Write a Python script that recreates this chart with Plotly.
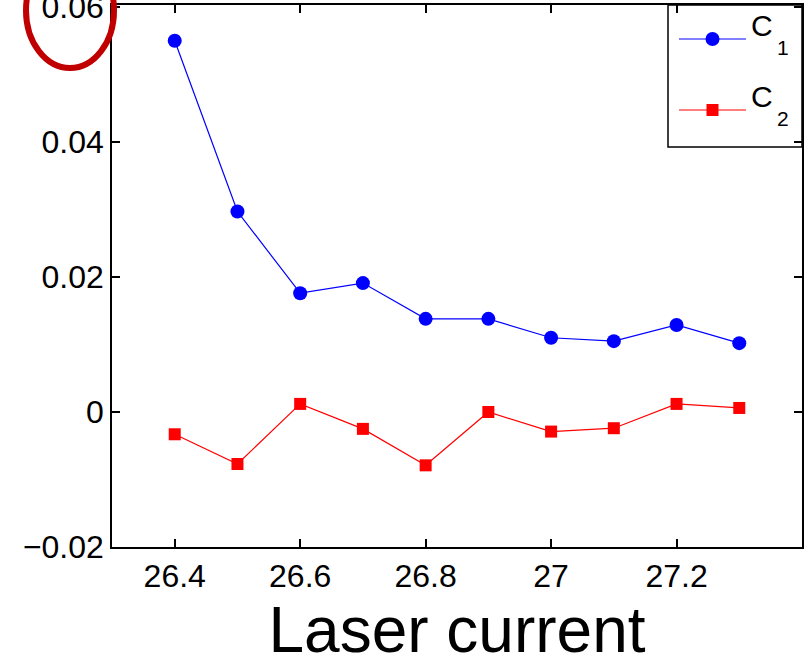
import plotly.graph_objects as go

laser_current = [26.4, 26.5, 26.6, 26.7, 26.8, 26.9, 27.0, 27.1, 27.2, 27.3]
c1_values = [0.0550, 0.0297, 0.0176, 0.0191, 0.0138, 0.0138, 0.0110, 0.0105, 0.0129, 0.0102]
c2_values = [-0.0033, -0.0077, 0.0012, -0.0025, -0.0079, 0.0000, -0.0029, -0.0024, 0.0012, 0.0006]
series_names = ["<span style=\"baseline-shift:15px\">C</span>"
                "<span style=\"baseline-shift:-4px;font-size:21px\">\u20091</span>",
                "<span style=\"baseline-shift:15px\">C</span>"
                "<span style=\"baseline-shift:-4px;font-size:21px\">\u20092</span>"]
x_title = "Laser current"

W, H = 806, 668
ml, mr, mt, mb = 112, 4, 5, 121
pw, ph = W - ml - mr, H - mt - mb

fig = go.Figure()
fig.add_trace(go.Scatter(x=laser_current, y=c1_values, mode="lines+markers", name=series_names[0],
                         legendgroup="g1",
                         line=dict(color="#0000FF", width=1.2),
                         marker=dict(symbol="circle", size=14, color="#0000FF")))
fig.add_trace(go.Scatter(x=laser_current, y=c2_values, mode="lines+markers", name=series_names[1],
                         legendgroup="g2",
                         line=dict(color="#FF0000", width=1.2),
                         marker=dict(symbol="square", size=12, color="#FF0000")))

def px2paper_x(px):
    return (px - ml) / pw

def px2paper_y(py):
    return (H - mb - py) / ph

# red highlight ellipse around the top tick label
fig.add_shape(type="circle", xref="paper", yref="paper",
              x0=px2paper_x(26), x1=px2paper_x(114),
              y0=px2paper_y(68), y1=px2paper_y(-47),
              line=dict(color="#C00000", width=6), fillcolor="rgba(0,0,0,0)", layer="above")

# legend frame
fig.add_shape(type="rect", xref="paper", yref="paper",
              x0=px2paper_x(668), x1=px2paper_x(802),
              y0=px2paper_y(147), y1=px2paper_y(5),
              line=dict(color="black", width=1.5), fillcolor="white", layer="below")

axis_common = dict(showgrid=False, zeroline=False, showline=True, linecolor="black", linewidth=1.5,
                   mirror="ticks", ticks="inside", ticklen=8, tickwidth=1.5, tickcolor="black",
                   ticklabeloverflow="allow", automargin=False,
                   tickfont=dict(family="Liberation Sans, Arial", size=32, color="black"))

fig.update_layout(
    width=W, height=H,
    margin=dict(l=ml, r=mr, t=mt, b=mb, autoexpand=False),
    paper_bgcolor="white", plot_bgcolor="white",
    xaxis=dict(range=[26.3, 27.4], tickvals=[26.4, 26.6, 26.8, 27.0, 27.2],
               ticktext=["26.4", "26.6", "26.8", "27", "27.2"],
               title=dict(text=x_title, font=dict(family="Liberation Sans, Arial", size=64, color="black"),
                          standoff=8),
               **axis_common),
    yaxis=dict(range=[-0.02, 0.0603], tickvals=[-0.02, 0, 0.02, 0.04, 0.06],
               ticktext=["\u22120.02", "0", "0.02", "0.04", "0.06"],
               **axis_common),
    legend=dict(x=px2paper_x(674), y=px2paper_y(13), xanchor="left", yanchor="top",
                bgcolor="rgba(0,0,0,0)", borderwidth=0, itemwidth=67,
                font=dict(family="Liberation Sans, Arial", size=30, color="black"),
                tracegroupgap=29),
    showlegend=True,
)

fig.write_html("out.html")
